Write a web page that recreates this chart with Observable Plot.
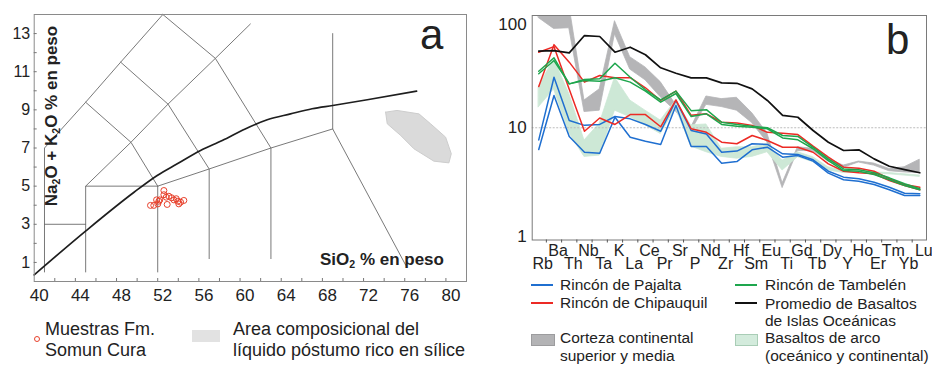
<!DOCTYPE html>
<html><head><meta charset="utf-8">
<script src="https://cdn.jsdelivr.net/npm/d3@7"></script>
<script src="https://cdn.jsdelivr.net/npm/@observablehq/plot@0.6"></script>
<style>
body{margin:0;background:#fff;font-family:"Liberation Sans",Arial,sans-serif;color:#222;}
#wrap{position:relative;width:932px;height:366px;overflow:hidden;background:#fff;}
#wrap svg{position:absolute;top:0;}
.abs{position:absolute;white-space:nowrap;}
.sub{font-size:0.62em;vertical-align:-0.28em;}
.leg{font-size:18px;line-height:21px;}
.legb{font-size:15.5px;line-height:18px;}
</style></head><body><div id="wrap"></div>
<script>
// ---------- Panel a data (TAS) ----------
const xTicksA = [40,44,48,52,56,60,64,68,72,76,80];
const yTicksA = [1,3,5,7,9,11,13];
const tasBoundaries = [
  [[41,0.5],[41,7],[45,9.4],[48.4,11.5],[52.5,14]],
  [[41,3],[45,3]],
  [[45,0.5],[45,5],[52,5]],
  [[45,5],[49.4,7.3],[53,9.3],[57.6,11.7],[61,13.5]],
  [[52,0.5],[52,5],[57,5.9],[63,7],[69,8]],
  [[52,5],[49.4,7.3],[45,9.4]],
  [[57,1.2],[57,5.9],[53,9.3],[48.4,11.5]],
  [[63,1.2],[63,7],[57.6,11.7],[52.5,14]],
  [[69,13],[69,8],[76.1,0.85]]
];
const alkalineCurve = [[40,0.35],[45.05,2.67],[49.7,4.68],[51.95,5.56],[53.9,6.17],[56.16,6.87],[58.27,7.39],[60.5,8.0],[62.64,8.48],[64.9,8.79],[67,9.06],[69,9.23],[72.36,9.53],[77.15,9.98]];
const silicaLiquidArea = [[74.14,8.88],[75.25,8.97],[77.38,8.79],[78.51,8.27],[79.97,7.57],[80.52,6.7],[80.29,6.22],[78.83,6.31],[76.89,6.96],[75.6,7.66],[74.3,8.27],[74.14,8.88]];
const sampleSiO2 = [51.3,51.62,51.89,52.11,52.01,52.6,52.6,52.83,52.92,53.08,53.34,53.57,53.8,53.96,54.05,54.22,54.54,52.2];
const sampleAlk  = [3.99,3.99,4.28,4.21,4.07,4.77,4.55,4.42,4.04,4.47,4.39,4.28,4.34,4.21,4.07,4.16,4.25,4.28];

// ---------- Panel b data (spider diagram) ----------
const elements = ["Rb","Ba","Th","Nb","Ta","K","La","Ce","Pr","Sr","P","Nd","Zr","Hf","Sm","Eu","Ti","Gd","Tb","Dy","Y","Ho","Er","Tm","Yb","Lu"];
const yTicksB = [1,10,100];
const oib        = [48.1,48.7,46.5,66.3,65,47.1,52.2,44.7,34.2,30.6,27.8,27.8,25.1,24.9,22.2,17.5,12.9,12.4,9.45,7.43,6.27,6.36,5.28,4.54,4.24,3.97];
const pajalta1   = [7.8,28.2,11.6,10.5,10.7,12.6,12.0,10.7,9.3,17.5,9.45,8.8,6.05,6.2,7.2,7.1,5.86,5.78,5.18,4.1,3.63,3.51,3.27,2.95,2.61,2.58];
const pajalta2   = [6.4,19.4,8.36,6.05,5.93,12.4,8.24,7.59,7.1,15.8,6.8,6.8,4.83,5.0,6.36,6.71,5.47,5.65,5.04,3.94,3.44,3.34,3.12,2.8,2.49,2.49];
const chipauquil1= [23.3,55,38.4,25.5,29.2,27.9,27.9,22.7,17.5,21.2,12.9,13.3,11.2,11.0,10.5,9.1,8.95,8.7,6.85,5.47,4.45,4.35,4.1,3.51,3.12,2.95];
const chipauquil2= [47,52.8,22,9.3,12.2,10.7,13.1,13.1,10.2,17.7,9.8,9.1,7.43,7.2,8.53,7.7,6.7,6.7,6.05,4.77,4.1,3.97,3.89,3.39,3.06,2.8];
const tambelen1  = [31.9,42,24.6,26.9,27.3,37.6,28.2,21.8,17.7,21.2,14.2,14.5,11.2,10.7,10.3,10.0,8.53,8.36,6.7,5.28,4.3,4.22,3.97,3.58,3.17,2.86];
const tambelen2  = [30.3,39.7,24.6,26.3,26.0,27.9,25.5,21.2,16.9,20.2,12.6,13.3,10.7,10.3,10.1,9.8,8.12,7.8,6.5,5.1,4.16,4.1,3.83,3.44,3.06,2.8];
const crustLow   = [95,76,77,13.8,14.2,68,33,26.5,18.7,14,9.3,16,15.3,14.2,11,7.4,2.9,6.2,6.2,5.0,4.4,4.9,4.6,4.1,4.0,3.95];
const crustHigh  = [130,105,124,17.5,22,89,42.5,34.5,25.5,16,10,19,18,18.5,13.5,8.9,3.2,6.7,6.5,5.3,4.6,5.0,4.8,4.3,4.45,5.2];
const arcLow     = [15.2,22,9,5.5,5.65,14.2,12.4,10.5,8.8,15,6.8,6.05,5.5,5.3,5.5,6.05,4.16,5.47,4.94,4.16,3.95,3.95,3.9,3.85,3.75,3.65];
const arcHigh    = [23,41,20,7.7,10.9,28,17.5,14.2,11.6,17.5,10.5,10.7,6.5,6.7,6.7,7.2,5.1,6.05,5.47,4.45,4.1,4.05,4.0,3.95,3.85,3.75];

const FONT = '"Liberation Sans", Arial, sans-serif';
const wrap = document.getElementById("wrap");

// ---------- Panel a ----------
const tasTable = tasBoundaries.flatMap((seg, k) => seg.map(p => ({id:k, x:p[0], y:p[1]})));
const curveTable = alkalineCurve.map(p => ({x:p[0], y:p[1]}));
const areaTable = silicaLiquidArea.map(p => ({x:p[0], y:p[1]}));
const samples = sampleSiO2.map((s,i) => ({x:s, y:sampleAlk[i]}));

const pa = Plot.plot({
  width:470, height:300, marginLeft:33.7, marginRight:4, marginTop:14, marginBottom:19,
  x:{domain:[40,82], label:null}, y:{domain:[0,14], label:null},
  style:{fontFamily:FONT, background:"transparent", overflow:"visible", color:"#222"},
  marks:[
    Plot.line(areaTable, {x:"x", y:"y", fill:"#dadada", stroke:"#cdcdcd", strokeWidth:1}),
    Plot.line(tasTable, {x:"x", y:"y", z:"id", stroke:"#6a6a6a", strokeWidth:0.9}),
    Plot.line(curveTable, {x:"x", y:"y", stroke:"#1e1e1e", strokeWidth:1.7, curve:"monotone-x"}),
    Plot.dot(samples, {x:"x", y:"y", r:3, stroke:"#e8412c", strokeWidth:1, fill:"none"}),
    Plot.frame({stroke:"#8a8a8a"}),
    Plot.axisX({ticks:d3.range(42,82,2), tickSize:3, dy:-3, tickFormat:()=>"", stroke:"#777", label:null}),
    Plot.axisY({ticks:d3.range(1,14,1), tickSize:3, dx:3, tickFormat:()=>"", stroke:"#777", label:null}),
    Plot.axisX({ticks:xTicksA, tickSize:0, tickPadding:7, dx:5, fontSize:17, label:null}),
    Plot.axisY({ticks:yTicksA, tickSize:0, tickPadding:4, fontSize:16, label:null})
  ]
});
pa.style.left = "0px";
wrap.appendChild(pa);

// ---------- Panel b ----------
const idx = elements.map((e,i)=>i);
const crustTable = idx.map(i => ({i, lo:crustLow[i], hi:crustHigh[i]}));
const arcTable = idx.map(i => ({i, lo:arcLow[i], hi:arcHigh[i]}));
const series = [
  {id:"paj1", color:"#1f6fd0", w:1.5, v:pajalta1},
  {id:"paj2", color:"#1f6fd0", w:1.5, v:pajalta2},
  {id:"chi1", color:"#ec2a25", w:1.5, v:chipauquil1},
  {id:"chi2", color:"#ec2a25", w:1.5, v:chipauquil2},
  {id:"tam1", color:"#1ea64d", w:1.5, v:tambelen1},
  {id:"tam2", color:"#1ea64d", w:1.5, v:tambelen2},
  {id:"oib",  color:"#111111", w:1.7, v:oib}
];
const labelsTop = idx.filter(i => i % 2 === 1).map(i => ({i, t:elements[i]}));
const labelsBot = idx.filter(i => i % 2 === 0).map(i => ({i, t:elements[i]}));

const pb = Plot.plot({
  width:442, height:275, marginLeft:41.7, marginRight:6, marginTop:15, marginBottom:35.5,
  x:{domain:[-0.43,25.44], label:null}, y:{type:"log", domain:[1,100], label:null},
  style:{fontFamily:FONT, background:"transparent", overflow:"visible", color:"#222"},
  marks:[
    Plot.areaY(crustTable, {x:"i", y1:"lo", y2:"hi", fill:"#b5b5b7", stroke:"#b5b5b7", strokeWidth:0.8, clip:true}),
    Plot.areaY(arcTable, {x:"i", y1:"lo", y2:"hi", fill:"#cde8d6", stroke:"#cde8d6", strokeWidth:0.8, clip:true}),
    Plot.ruleY([10], {stroke:"#bdbdbd", strokeDasharray:"2,1.5"}),
    ...series.map(s => Plot.line(idx.map(i => ({i, v:s.v[i]})), {x:"i", y:"v", stroke:s.color, strokeWidth:s.w, clip:true})),
    Plot.frame({stroke:"#7a7a7a"}),
    Plot.axisX({ticks:d3.range(0,25).map(i=>i+0.5), tickSize:3, tickFormat:()=>"", stroke:"#555", label:null}),
    Plot.text(labelsTop, {x:"i", text:"t", frameAnchor:"bottom", dy:10.5, dx:4, fontSize:16, lineAnchor:"middle", fill:"#222"}),
    Plot.text(labelsBot, {x:"i", text:"t", frameAnchor:"bottom", dy:24, dx:4, fontSize:16, lineAnchor:"middle", fill:"#222"}),
    Plot.axisY({ticks:[yTicksB[1]], tickSize:0, tickPadding:5.5, fontSize:17, label:null}),
    Plot.axisY({ticks:[yTicksB[2]], tickSize:0, tickPadding:5.5, fontSize:17, dy:9, label:null}),
    Plot.axisY({ticks:[yTicksB[0]], tickSize:0, tickPadding:5.5, fontSize:17, dy:-3, label:null})
  ]
});
pb.style.left = "490px";
wrap.appendChild(pb);

// ---------- text overlays & legends ----------
function add(html, css, cls){
  const d = document.createElement("div");
  d.className = "abs" + (cls ? " " + cls : "");
  d.innerHTML = html;
  Object.assign(d.style, css);
  wrap.appendChild(d);
  return d;
}
add('Na<span class="sub">2</span>O + K<span class="sub">2</span>O % en peso',
  {left:"54px", top:"116px", fontSize:"17px", fontWeight:"bold", lineHeight:"17px", transform:"translate(-50%,-50%) rotate(-90deg)"});
add('SiO<span class="sub">2</span> % en peso', {left:"320px", top:"251px", fontSize:"17px", fontWeight:"bold", lineHeight:"17px"});
add('a', {left:"420px", top:"14px", fontSize:"42px", lineHeight:"42px"});
add('b', {left:"886px", top:"19px", fontSize:"42px", lineHeight:"42px"});

// legend a
add('', {left:"33.5px", top:"335.5px", width:"4px", height:"4px", border:"1px solid #e8412c", borderRadius:"50%"});
add('Muestras Fm.<br>Somun Cura', {left:"45px", top:"318.5px"}, "leg");
add('', {left:"192px", top:"330px", width:"28px", height:"12px", background:"#e2e2e2"});
add('Area composicional del<br>líquido póstumo rico en sílice', {left:"233px", top:"318.5px"}, "leg");

// legend b
add('', {left:"531px", top:"284px", width:"22px", height:"2px", background:"#1f6fd0"});
add('Rincón de Pajalta', {left:"560px", top:"276px"}, "legb");
add('', {left:"531px", top:"302px", width:"22px", height:"2px", background:"#ec2a25"});
add('Rincón de Chipauquil', {left:"560px", top:"294px"}, "legb");
add('', {left:"735px", top:"284px", width:"22px", height:"2px", background:"#1ea64d"});
add('Rincón de Tambelén', {left:"765px", top:"276px"}, "legb");
add('', {left:"735px", top:"302px", width:"22px", height:"2px", background:"#111"});
add('Promedio de Basaltos<br>de Islas Oceánicas', {left:"765px", top:"294.5px", lineHeight:"17px"}, "legb");
add('', {left:"531px", top:"334px", width:"22px", height:"10px", background:"#b3b3b5", border:"1px solid #9c9c9e"});
add('Corteza continental<br>superior y media', {left:"560px", top:"329.3px"}, "legb");
add('', {left:"735px", top:"334px", width:"21px", height:"10px", background:"#d3ebdc", border:"1px solid #a9cdb6"});
add('Basaltos de arco<br>(oceánico y continental)', {left:"765px", top:"329.3px"}, "legb");
</script></body></html>
